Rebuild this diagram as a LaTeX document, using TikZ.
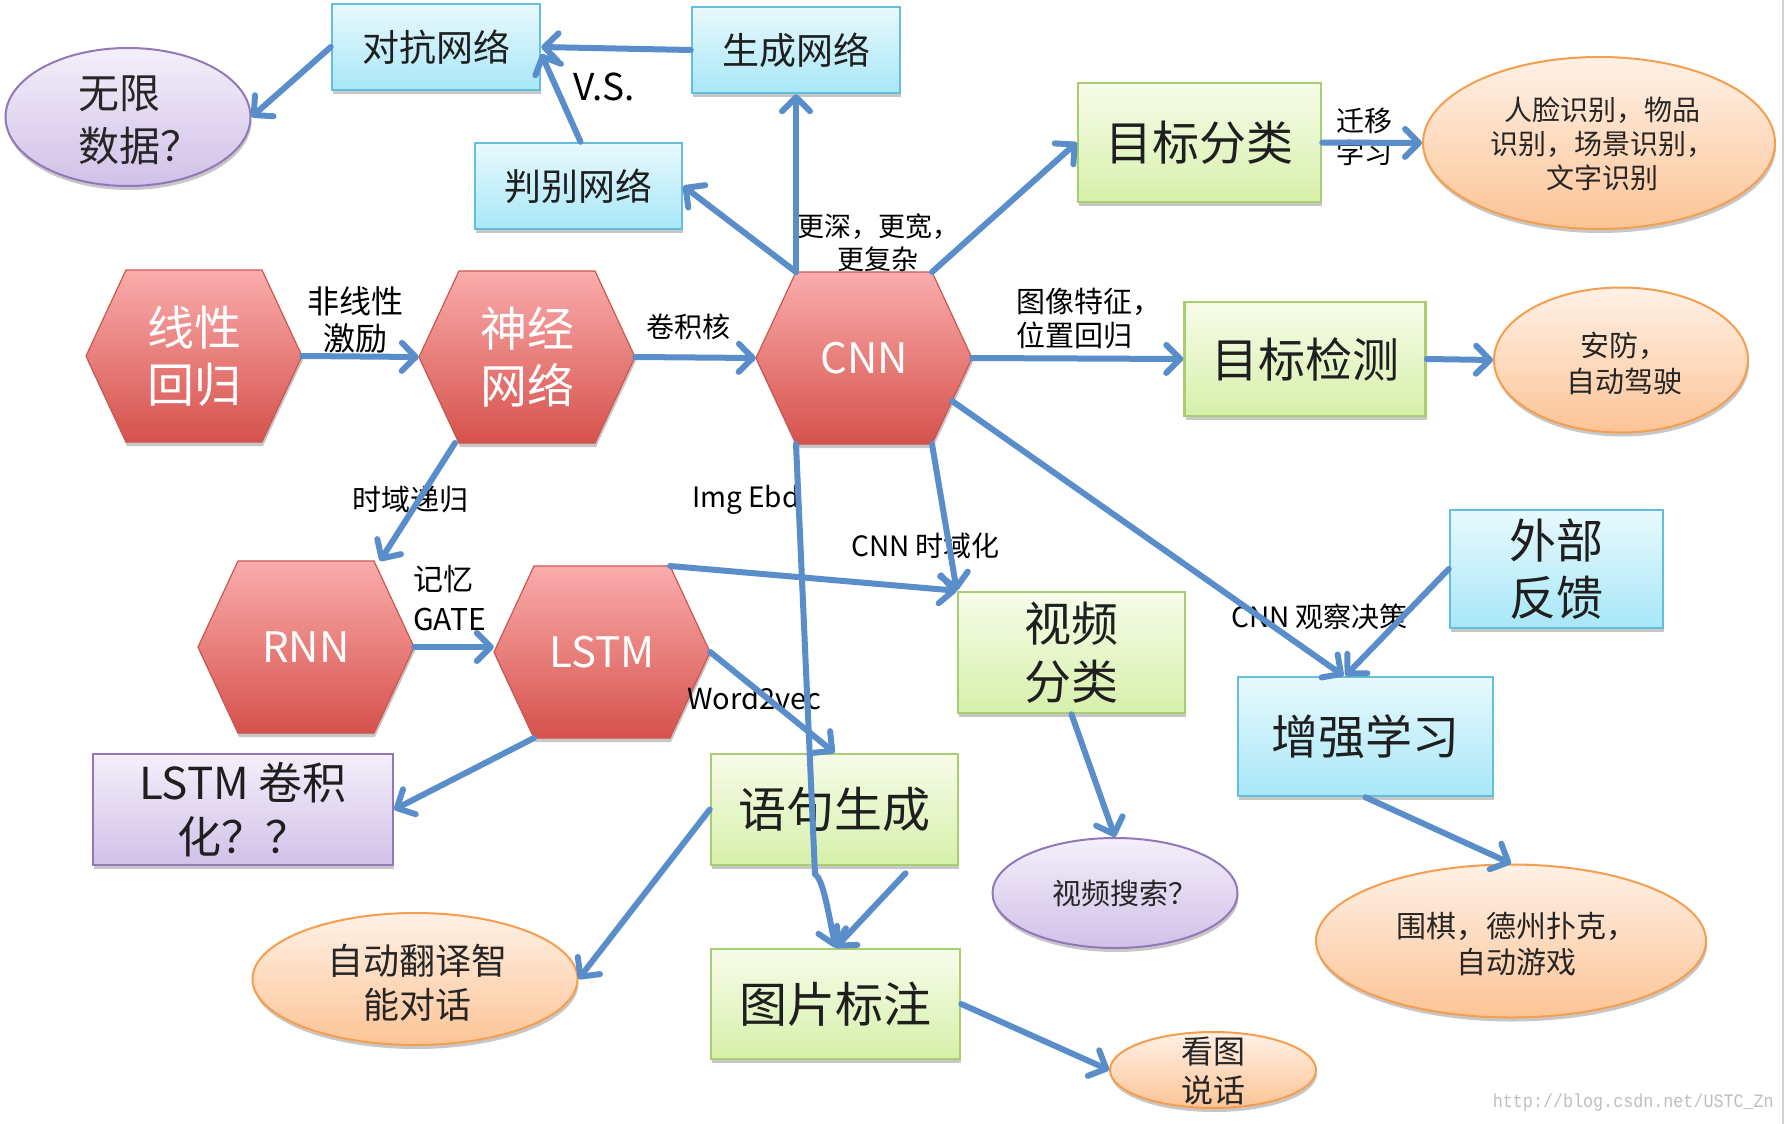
\documentclass[tikz,border=0pt]{standalone}
\usepackage{fontspec}
\setmainfont{Noto Sans CJK SC}
\newfontfamily\wmfont{Liberation Mono}
\usetikzlibrary{arrows.meta,shadows,calc,shapes.geometric}
\definecolor{arr}{RGB}{90,142,202}
\definecolor{cyT}{RGB}{232,249,253}
\definecolor{cyB}{RGB}{168,231,248}
\definecolor{cyD}{RGB}{100,190,222}
\definecolor{grT}{RGB}{247,252,234}
\definecolor{grB}{RGB}{214,240,170}
\definecolor{grD}{RGB}{168,206,112}
\definecolor{puT}{RGB}{244,239,250}
\definecolor{puB}{RGB}{208,193,232}
\definecolor{puD}{RGB}{146,120,186}
\definecolor{orT}{RGB}{255,241,230}
\definecolor{orB}{RGB}{252,196,150}
\definecolor{orD}{RGB}{245,158,78}
\definecolor{rdT}{RGB}{250,172,172}
\definecolor{rdB}{RGB}{214,82,76}
\definecolor{rdD}{RGB}{204,86,80}
\newcommand\myfs[2]{\fontsize{#1}{#2}\selectfont}
\tikzset{
  shad/.style={drop shadow={shadow xshift=1pt,shadow yshift=-4pt,opacity=0.22,fill=black}},
  box/.style={rectangle, line width=2.5pt, inner sep=0pt, align=center, text=black!88, shad},
  cybox/.style={box, draw=cyD, top color=cyT, bottom color=cyB},
  grbox/.style={box, draw=grD, top color=grT, bottom color=grB},
  pubox/.style={box, draw=puD, top color=puT, bottom color=puB},
  ell/.style={ellipse, line width=2pt, inner sep=0pt, shad},
  orell/.style={ell, draw=orD, top color=orT, bottom color=orB},
  puell/.style={ell, draw=puD, top color=puT, bottom color=puB},
  etext/.style={align=center, inner sep=0pt, text=black!85},
  hexshape/.style={draw=rdD, line width=1.2pt, top color=rdT, bottom color=rdB, shad},
  hextext/.style={rectangle, minimum width=216pt, minimum height=172pt, inner sep=0pt, align=center, text=white},
  lab/.style={align=center, inner sep=0pt, text=black},
  conn/.style={draw=arr, line width=6pt, line cap=round, -{Straight Barb[length=14pt,width=28pt,round]}},
}
\newcommand\hexnode[5]{%
  \path[hexshape] (#2-108,#3) -- (#2-68,#3-86) -- (#2+68,#3-86) -- (#2+108,#3)
     -- (#2+68,#3+86) -- (#2-68,#3+86) -- cycle;
  \node[hextext,font=#5] (#1) at (#2,#3) {#4};
  \coordinate (#1-tl) at (#2-68,#3-86);
  \coordinate (#1-tr) at (#2+68,#3-86);
  \coordinate (#1-bl) at (#2-68,#3+86);
  \coordinate (#1-br) at (#2+68,#3+86);
}
\begin{document}
\begin{tikzpicture}[x=1pt,y=-1pt]
\useasboundingbox (0,0) rectangle (1786,1124);
\fill[white] (0,0) rectangle (1786,1124);
\draw[black!18,line width=2pt] (1783,0) -- (1783,1124);
% rectangles
\node[cybox, minimum width=208pt, minimum height=86pt, font=\myfs{37}{44}] (dk) at (436,47) {对抗网络};
\node[cybox, minimum width=208pt, minimum height=86pt, font=\myfs{37}{44}] (sc) at (796,50) {生成网络};
\node[cybox, minimum width=207pt, minimum height=86pt, font=\myfs{37}{44}] (pb) at (578.5,186) {判别网络};
\node[grbox, minimum width=243pt, minimum height=119pt, font=\myfs{47}{56}] (mbfl) at (1199.5,142.5) {目标分类};
\node[grbox, minimum width=241pt, minimum height=114pt, font=\myfs{47}{56}] (mbjc) at (1305,359) {目标检测};
\node[cybox, minimum width=213pt, minimum height=118pt, font=\myfs{47}{57}] (wbfk) at (1556.5,569) {外部\\反馈};
\node[cybox, minimum width=255pt, minimum height=119pt, font=\myfs{47}{56}] (zqxx) at (1365.5,736.5) {增强学习};
\node[grbox, minimum width=227pt, minimum height=121pt, font=\myfs{47}{58}] (spfl) at (1071.5,652.5) {视频\\分类};
\node[grbox, minimum width=247pt, minimum height=111pt, font=\myfs{48}{56}] (jzsc) at (834.5,809.5) {语句生成};
\node[grbox, minimum width=249pt, minimum height=110pt, font=\myfs{48}{56}] (tpbz) at (835.5,1004) {图片标注};
\node[pubox, minimum width=300pt, minimum height=111pt, font=\myfs{44}{54}] (lstmc) at (243,809.5) {LSTM 卷积\\化？？};
% ellipses
\node[puell, minimum width=245pt, minimum height=138pt] (wxsj) at (128,117) {};
\node[etext, align=left, font=\myfs{41}{53}] (wxsjt) at (140,120) {无限\\数据？};
\node[orell, minimum width=352pt, minimum height=172pt] (rlsb) at (1599,143) {};
\node[etext, font=\myfs{28}{34}] (rlsbt) at (1602,144) {人脸识别，物品\\识别，场景识别，\\文字识别};
\node[orell, minimum width=254pt, minimum height=145pt] (af) at (1621,360) {};
\node[etext, font=\myfs{29}{36}] (aft) at (1624,363) {安防，\\自动驾驶};
\node[orell, minimum width=390pt, minimum height=153pt] (wq) at (1511,941) {};
\node[etext, font=\myfs{30}{36}] (wqt) at (1516,944) {围棋，德州扑克，\\自动游戏};
\node[puell, minimum width=245pt, minimum height=110pt] (spss) at (1115,893) {};
\node[etext, font=\myfs{29}{34}] (spsst) at (1125,893) {视频搜索？};
\node[orell, minimum width=206pt, minimum height=76pt] (ktsh) at (1213,1070) {};
\node[etext, font=\myfs{32}{39}] (ktsht) at (1213,1071) {看图\\说话};
\node[orell, minimum width=325pt, minimum height=132pt] (zdfy) at (415,979) {};
\node[etext, font=\myfs{36}{44}] (zdfyt) at (417,983) {自动翻译智\\能对话};
% hexagons
\hexnode{xxhg}{194}{356}{线性\\回归}{\myfs{47}{57}}
\hexnode{sjwl}{527}{357}{神经\\网络}{\myfs{47}{57}}
\hexnode{cnn}{864}{358}{CNN}{\myfs{42}{50}}
\hexnode{rnn}{306}{647}{RNN}{\myfs{42}{50}}
\hexnode{lstm}{602}{652}{LSTM}{\myfs{42}{50}}
% labels
\node[lab, font=\myfs{37}{40}] (vs) at (604,87) {V.S.};
\node[lab, font=\myfs{27}{33}] (gs) at (878,243) {更深，更宽，\\更复杂};
\node[lab, font=\myfs{28}{32}] (qy) at (1364,137) {迁移\\学习};
\node[lab, font=\myfs{32}{37}] (fx) at (355,320) {非线性\\激励};
\node[lab, font=\myfs{28}{32}, anchor=west] (jjh) at (646,327) {卷积核};
\node[lab, font=\myfs{29}{34}, anchor=west, align=left] (tx) at (1016,319) {图像特征，\\位置回归};
\node[lab, font=\myfs{29}{33}, anchor=west] (syd) at (352,499) {时域递归};
\node[lab, font=\myfs{28}{32}, anchor=west] (ie) at (692,500) {Img Ebd};
\node[lab, font=\myfs{28}{32}, anchor=west] (cs) at (851,546) {CNN 时域化};
\node[lab, font=\myfs{30}{40}, anchor=west, align=left] (jy) at (413,598) {记忆\\GATE};
\node[lab, font=\myfs{29}{32}, anchor=west] (wv) at (687,698) {Word2vec};
\node[lab, font=\myfs{28}{32}, anchor=west] (cg) at (1231,617) {CNN 观察决策};
\node[anchor=east, inner sep=0pt, text=black!25] (wm) at (1774,1103) {\scalebox{0.88}[1]{\wmfont\myfs{19}{19}http://blog.csdn.net/USTC\_Zn}};
% connectors
\draw[conn] (sc.west) -- (dk.east);
\draw[conn] ([xshift=2pt]pb.north) -- ([yshift=-7pt]dk.east);
\draw[conn] (dk.west) -- (wxsj.east);
\draw[conn] (cnn-tl) -- (pb.east);
\draw[conn] (cnn-tl) -- (cnn-tl |- sc.south);
\draw[conn] (cnn-tr) -- (mbfl.west);
\draw[conn] (mbfl.east) -- (rlsb.west);
\draw[conn] (xxhg.east) -- (sjwl.west);
\draw[conn] (sjwl.east) -- (cnn.west);
\draw[conn] (cnn.east) -- (mbjc.west);
\draw[conn] (mbjc.east) -- (af.west);
\draw[conn] ([xshift=-4pt]sjwl-bl) -- ([xshift=6pt]rnn-tr);
\draw[conn] (rnn.east) -- (rnn.east -| lstm.west);
\draw[conn] (lstm-bl) -- (lstmc.east);
\draw[conn] (lstm.east) -- (jzsc.north);
\draw[conn] (lstm-tr) -- (spfl.north west);
\draw[conn] (cnn-br) -- (spfl.north west);
\draw[conn] ($(cnn.east)!.5!(cnn-br)$) -- ([xshift=-22pt]zqxx.north);
\draw[conn] (wbfk.west) -- ([xshift=-20pt]zqxx.north);
\draw[conn] (zqxx.south) -- (wq.north);
\draw[conn] (spfl.south) -- (spss.north);
\draw[conn] (jzsc.west) -- (zdfy.east);
\draw[conn] ([xshift=71pt,yshift=-7pt]jzsc.south) -- (tpbz.north);
\draw[conn] (cnn-bl) -- ++(19,430) .. controls +(8,6) and +(-8,-40) .. (tpbz.north);
\draw[conn] (tpbz.east) -- (ktsh.west);
\end{tikzpicture}
\end{document}
